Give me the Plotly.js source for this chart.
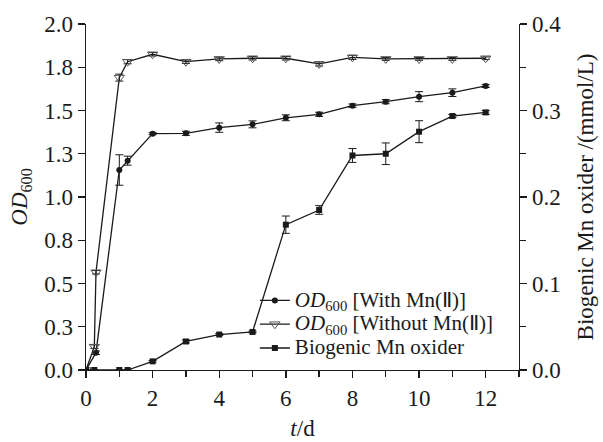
<!DOCTYPE html>
<html><head><meta charset="utf-8">
<script src="https://cdn.plot.ly/plotly-3.0.1.min.js"></script>
<style>html,body{margin:0;padding:0;background:#fff}#chart{width:603px;height:442px}</style>
</head><body><div id="chart"></div>
<script>
// Time points (d)
const tWith = [0, 0.3, 1, 1.25, 2, 3, 4, 5, 6, 7, 8, 9, 10, 11, 12];
const odWith = [0, 0.10, 1.156, 1.21, 1.366, 1.368, 1.401, 1.42, 1.458, 1.478, 1.528, 1.551, 1.58, 1.603, 1.642];
const errWith = [0, 0.01, 0.088, 0.026, 0.006, 0.012, 0.027, 0.02, 0.017, 0.012, 0.01, 0.012, 0.029, 0.022, 0.009];

const tWithout = [0, 0.25, 0.3, 1, 1.25, 2, 3, 4, 5, 6, 7, 8, 9, 10, 11, 12];
const odWithout = [0, 0.135, 0.565, 1.69, 1.782, 1.825, 1.782, 1.798, 1.802, 1.802, 1.769, 1.807, 1.798, 1.798, 1.798, 1.802];
const errWithout = [0, 0.01, 0.01, 0.02, 0.012, 0.01, 0.01, 0.01, 0.01, 0.01, 0.012, 0.012, 0.008, 0.008, 0.008, 0.008];

const tMnOx = [0, 0.25, 1, 1.25, 2, 3, 4, 5, 6, 7, 8, 9, 10, 11, 12];
const mnOx = [0, 0, 0, 0, 0.010, 0.033, 0.041, 0.044, 0.168, 0.185, 0.248, 0.25, 0.2755, 0.2936, 0.2978];
const errMnOx = [0, 0, 0, 0, 0.001, 0.0018, 0.001, 0.001, 0.010, 0.005, 0.008, 0.0125, 0.0127, 0.0018, 0.0023];

const xTickVals = [0, 2, 4, 6, 8, 10, 12];
const yLeftTickVals = [0, 0.25, 0.5, 0.75, 1.0, 1.25, 1.5, 1.75, 2.0];
const yLeftTickText = ['0.0', '0.3', '0.5', '0.8', '1.0', '1.3', '1.5', '1.8', '2.0'];
const yRightTickVals = [0, 0.1, 0.2, 0.3, 0.4];
const yRightTickText = ['0.0', '0.1', '0.2', '0.3', '0.4'];

const seriesNames = [
  '<i>OD</i><sub>600</sub> [With Mn(Ⅱ)]',
  '<i>OD</i><sub>600</sub> [Without Mn(Ⅱ)]',
  'Biogenic Mn oxider'
];
const big = (s) => '<span style="font-size:21px">' + s + '</span>';

const ink = '#1a1a1a';
const serif = 'Liberation Serif, Times New Roman, serif';
const errStyle = (arr) => ({type: 'data', array: arr, visible: true, color: ink, thickness: 1, width: 4});

const traces = [
  {x: tWith, y: odWith, name: big(seriesNames[0]), type: 'scatter', mode: 'lines+markers',
   line: {color: ink, width: 1.3}, marker: {symbol: 'circle', size: 6, color: ink},
   error_y: errStyle(errWith)},
  {x: tWithout, y: odWithout, name: big(seriesNames[1]), type: 'scatter', mode: 'lines+markers',
   line: {color: ink, width: 1.3}, marker: {symbol: 'triangle-down-open', size: 9, color: '#555', line: {width: 1}},
   error_y: errStyle(errWithout)},
  {x: tMnOx, y: mnOx, name: big(seriesNames[2]), type: 'scatter', mode: 'lines+markers', yaxis: 'y2',
   line: {color: ink, width: 1.3}, marker: {symbol: 'square', size: 6, color: ink},
   error_y: errStyle(errMnOx)}
];

const fnt = {family: serif, size: 23, color: ink};

const layout = {
  width: 603, height: 442,
  margin: {l: 86, r: 84, t: 24, b: 72},
  paper_bgcolor: '#fff', plot_bgcolor: '#fff',
  font: fnt,
  showlegend: true,
  legend: {x: 0.39, y: 0.25, xanchor: 'left', yanchor: 'top', bgcolor: 'rgba(0,0,0,0)',
           font: {family: serif, size: 16, color: ink}, itemwidth: 30, tracegroupgap: 0},
  xaxis: {range: [0, 13], tickvals: xTickVals, ticks: 'outside', ticklen: 7, tickwidth: 1.3,
          tickcolor: ink, showline: true, linecolor: ink, linewidth: 1.3, showgrid: false, zeroline: false,
          tickfont: fnt, minor: {dtick: 1, tick0: 0, ticks: 'outside', ticklen: 6, tickwidth: 1.3, tickcolor: ink},
          title: {text: '<i>t</i>/d', font: fnt, standoff: 10}},
  yaxis: {range: [0, 2], tickvals: yLeftTickVals, ticktext: yLeftTickText, ticks: 'outside', ticklen: 7,
          tickwidth: 1.3, tickcolor: ink, showline: true, linecolor: ink, linewidth: 1.3, showgrid: false,
          zeroline: false, tickfont: fnt,
          title: {text: '<i>OD</i><sub>600</sub>', font: fnt, standoff: 10}},
  yaxis2: {range: [0, 0.4], overlaying: 'y', side: 'right', tickvals: yRightTickVals, ticktext: yRightTickText,
           ticks: 'outside', ticklen: 7, tickwidth: 1.3, tickcolor: ink, showline: true, linecolor: ink,
           linewidth: 1.3, showgrid: false, zeroline: false, tickfont: fnt,
           minor: {dtick: 0.05, tick0: 0, ticks: 'outside', ticklen: 6, tickwidth: 1.3, tickcolor: ink},
           title: {text: 'Biogenic Mn oxider /(mmol/L)', font: fnt, standoff: 16}}
};

Plotly.newPlot('chart', traces, layout, {staticPlot: true, displayModeBar: false});
</script>
</body></html>
